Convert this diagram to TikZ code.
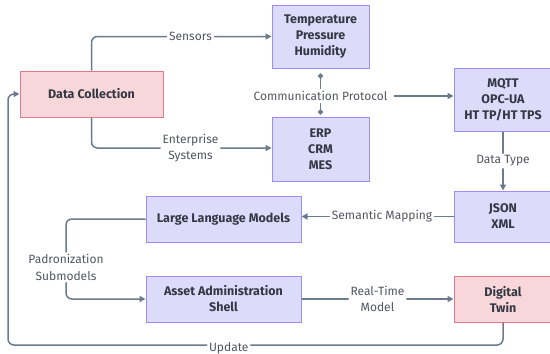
\documentclass[tikz,border=0pt]{standalone}
\usepackage{fontspec}
\setmainfont{Fira Sans}
\usetikzlibrary{arrows.meta}
\definecolor{bfill}{HTML}{DCDCFA}
\definecolor{bdraw}{HTML}{9D8CF5}
\definecolor{pfill}{HTML}{F8D7DA}
\definecolor{pdraw}{HTML}{E07A8A}
\definecolor{lcol}{HTML}{6B7B8C}
\definecolor{tcol}{HTML}{333844}
\tikzset{
  bluebox/.style={draw=bdraw, fill=bfill, line width=1pt, align=center, font=\fontsize{12.5}{16}\selectfont\bfseries, text=tcol, inner sep=0pt},
  pinkbox/.style={draw=pdraw, fill=pfill, line width=1pt, align=center, font=\fontsize{12.5}{16}\selectfont\bfseries, text=tcol, inner sep=0pt},
  conn/.style={draw=lcol, line width=1.5pt, rounded corners=6pt},
  arr/.style={-{Triangle[length=6pt,width=6pt]}},
  lbl/.style={fill=white, text=tcol!85, font=\fontsize{12}{16.5}\selectfont, align=center, inner sep=2pt}
}
\begin{document}
\begin{tikzpicture}[x=1pt,y=-1pt]
\useasboundingbox (0,0) rectangle (550,354);
% nodes
\node[pinkbox, minimum width=143pt, minimum height=46pt] (dc) at (91.5,94) {Data Collection};
\node[bluebox, minimum width=97pt, minimum height=63pt] (temp) at (320.5,36.5) {Temperature\\Pressure\\Humidity};
\node[bluebox, minimum width=97pt, minimum height=64pt] (erp) at (320.5,149) {ERP\\CRM\\MES};
\node[bluebox, minimum width=98pt, minimum height=63pt] (mqtt) at (503,99.5) {MQTT\\OPC-UA\\HT TP/HT TPS};
\node[bluebox, minimum width=98pt, minimum height=51pt] (json) at (503,216.5) {JSON\\XML};
\node[bluebox, minimum width=155pt, minimum height=46pt] (llm) at (223.5,219) {Large Language Models};
\node[bluebox, minimum width=155pt, minimum height=46pt] (aas) at (223.5,299) {Asset Administration\\Shell};
\node[pinkbox, minimum width=98pt, minimum height=46pt] (dt) at (503,299) {Digital\\Twin};
% communication protocol junction
\node[lbl, fill=none, inner xsep=6pt] (comm) at (320.5,96) {Communication Protocol};
% edges
\draw[conn, arr] (dc.north) |- node[lbl, pos=0.775] {Sensors} (temp.west);
\draw[conn, arr] (dc.south) |- node[lbl, pos=0.775] {Enterprise\\Systems} (erp.west |- 0,148);
\draw[conn, {Circle[length=5pt]}-, shorten <=5pt, rounded corners=0pt] (temp.south) -- (comm.north);
\draw[conn, {Circle[length=5pt]}-, shorten <=2pt, rounded corners=0pt] (erp.north) -- (comm.south);
\draw[conn, arr] (comm.east) -- (comm.east -| mqtt.west);
\draw[conn, arr] (mqtt.south) -- node[lbl] {Data Type} (json.north);
\draw[conn, arr] (json.west) -- node[lbl, pos=0.47] {Semantic Mapping} (json.west -| llm.east);
\draw[conn, arr] (llm.west) -| (66,259) -- node[lbl, pos=0.4] {Padronization\\Submodels} (66,280) |- (aas.west);
\draw[conn, arr] (aas.east) -- node[lbl] {Real-Time\\Model} (dt.west);
\draw[conn, arr] (dt.south) |- (8,345) node[lbl, pos=0.777, fill=white, yshift=-3pt] {Update} |- (dc.west);
\end{tikzpicture}
\end{document}
